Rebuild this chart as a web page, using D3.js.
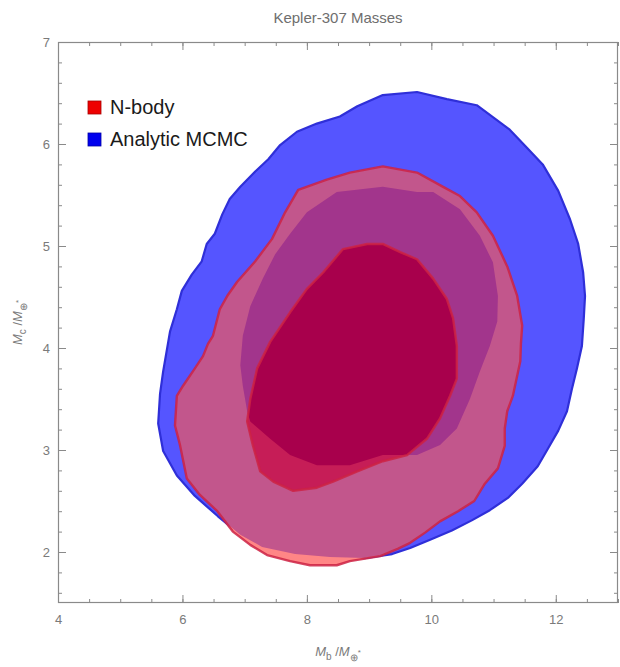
<!DOCTYPE html>
<html>
<head>
<meta charset="utf-8">
<script src="https://cdn.jsdelivr.net/npm/d3@7"></script>
<style>
  html, body { margin: 0; padding: 0; background: #fff; }
  svg { display: block; font-family: "Liberation Sans", Arial, Helvetica, sans-serif; }
</style>
</head>
<body>
<div id="chart"></div>
<script>
// contour outlines, as [Mb, Mc] pairs
// analytic MCMC, outer (95%) and inner (68%) levels
var blueOuter = [[9.22,6.48],[9.77,6.51],[10.25,6.44],[10.73,6.38],[11.26,6.14],[11.54,5.96],[11.79,5.80],[12.04,5.54],[12.23,5.26],[12.36,5.02],[12.44,4.74],[12.47,4.51],[12.45,4.29],[12.42,4.02],[12.34,3.80],[12.26,3.60],[12.18,3.38],[12.04,3.19],[11.88,3.02],[11.71,2.84],[11.46,2.67],[11.23,2.53],[10.94,2.41],[10.65,2.31],[10.33,2.21],[9.98,2.12],[9.66,2.04],[9.37,1.98],[8.93,1.94],[8.37,1.95],[7.81,1.98],[7.28,2.05],[6.93,2.17],[6.57,2.35],[6.20,2.55],[5.91,2.75],[5.69,2.99],[5.61,3.26],[5.64,3.55],[5.69,3.77],[5.80,4.16],[5.91,4.38],[5.99,4.56],[6.15,4.72],[6.31,4.85],[6.39,5.02],[6.52,5.12],[6.64,5.31],[6.76,5.46],[6.93,5.58],[7.17,5.73],[7.38,5.85],[7.57,5.99],[7.84,6.12],[8.16,6.20],[8.53,6.27],[8.81,6.37]];
var blueInner = [[9.22,5.58],[9.77,5.53],[10.03,5.53],[10.46,5.36],[10.78,5.10],[10.99,4.84],[11.07,4.51],[11.06,4.26],[10.94,4.02],[10.78,3.77],[10.62,3.50],[10.41,3.21],[10.14,3.05],[9.77,2.95],[9.22,2.95],[8.69,2.85],[8.16,2.85],[7.73,2.95],[7.41,3.11],[7.09,3.28],[7.04,3.38],[6.97,3.63],[6.93,3.83],[6.97,4.12],[7.09,4.41],[7.29,4.68],[7.49,4.92],[7.73,5.12],[8.00,5.33],[8.48,5.53]];
// N-body, outer and inner levels
var redOuter = [[9.22,5.78],[9.77,5.72],[10.19,5.58],[10.46,5.49],[10.73,5.33],[10.99,5.10],[11.22,4.80],[11.38,4.51],[11.46,4.22],[11.44,4.04],[11.43,3.87],[11.31,3.53],[11.22,3.38],[11.18,3.21],[11.18,3.04],[11.07,2.82],[10.86,2.67],[10.69,2.50],[10.43,2.40],[10.14,2.30],[9.90,2.19],[9.66,2.09],[9.46,2.03],[9.18,1.96],[8.69,1.91],[8.48,1.87],[8.05,1.87],[7.73,1.91],[7.36,1.97],[7.09,2.07],[6.81,2.20],[6.56,2.40],[6.28,2.56],[6.07,2.72],[5.96,3.05],[5.88,3.24],[5.91,3.53],[6.01,3.63],[6.20,3.80],[6.33,3.92],[6.41,4.04],[6.49,4.12],[6.60,4.38],[6.73,4.52],[6.88,4.65],[7.17,4.85],[7.44,5.07],[7.65,5.33],[7.86,5.55],[8.32,5.65],[8.69,5.72]];
var redInner = [[8.58,4.97],[8.97,5.02],[9.22,5.02],[9.50,4.94],[9.77,4.87],[10.03,4.68],[10.25,4.48],[10.35,4.29],[10.41,4.02],[10.41,3.70],[10.30,3.53],[10.14,3.31],[9.93,3.11],[9.61,2.95],[9.22,2.89],[8.81,2.79],[8.42,2.69],[8.16,2.63],[7.78,2.60],[7.46,2.69],[7.25,2.79],[7.13,3.05],[7.04,3.28],[7.09,3.50],[7.20,3.80],[7.41,4.06],[7.73,4.35],[8.00,4.58],[8.26,4.74]];

var xMajor = [4, 6, 8, 10, 12];
var yMajor = [2, 3, 4, 5, 6, 7];
var xMinor = d3.range(4, 13.01, 0.5);
var yMinor = d3.range(1.6, 7.01, 0.2);

var legendNames = ["N-body", "Analytic MCMC"];
var legendColors = ["#ee0000", "#0000ee"];

var width = 620, height = 667,
    margin = {top: 42, right: 2, bottom: 64, left: 58};

var svg = d3.select("#chart").append("svg")
    .attr("width", width)
    .attr("height", height);

var x = d3.scaleLinear().domain([4, 13]).range([margin.left, width - margin.right]);
var y = d3.scaleLinear().domain([1.5, 7]).range([height - margin.bottom, margin.top]);

var line = d3.line()
    .x(function(d) { return x(d[0]); })
    .y(function(d) { return y(d[1]); })
    .curve(d3.curveLinearClosed);

var defs = svg.append("defs");
defs.append("clipPath").attr("id", "in-blue-outer")
  .append("path").attr("d", line(blueOuter));
defs.append("clipPath").attr("id", "in-blue-inner")
  .append("path").attr("d", line(blueInner));

// the overlaps get their own colour, the way the translucent fills mix
var g = svg.append("g");
g.append("path").attr("d", line(blueOuter))
  .attr("fill", "#5555ff").attr("stroke", "#2f2fd8").attr("stroke-width", 2.2)
  .attr("stroke-linejoin", "round");
g.append("path").attr("d", line(redOuter)).attr("fill", "#ff8686");
g.append("path").attr("d", line(redOuter)).attr("fill", "#c2568c")
  .attr("clip-path", "url(#in-blue-outer)");
g.append("path").attr("d", line(redOuter)).attr("fill", "#a2358c")
  .attr("clip-path", "url(#in-blue-inner)");
g.append("path").attr("d", line(redInner)).attr("fill", "#c61d57");
g.append("path").attr("d", line(redInner)).attr("fill", "#a8004c")
  .attr("clip-path", "url(#in-blue-inner)");

[redOuter, redInner].forEach(function(d) {
  g.append("path").attr("d", line(d))
    .attr("fill", "none").attr("stroke", "#cc2244").attr("stroke-opacity", 0.85)
    .attr("stroke-width", 2.4).attr("stroke-linejoin", "round");
});

// frame + inward ticks on all four sides
var frameColor = "#8a8a8a", labelColor = "#7a7a7a";

function styleAxis(sel) {
  sel.select(".domain").remove();
  sel.selectAll(".tick line").attr("stroke", frameColor);
  sel.selectAll(".tick text").attr("fill", labelColor).attr("font-size", 13);
}

var bottom = height - margin.bottom, right = width - margin.right;

svg.append("g").attr("transform", "translate(0," + bottom + ")")
  .call(d3.axisBottom(x).tickValues(xMinor).tickSize(-4).tickFormat("")).call(styleAxis);
svg.append("g").attr("transform", "translate(0," + bottom + ")")
  .call(d3.axisBottom(x).tickValues(xMajor).tickSize(-8).tickPadding(12).tickFormat(d3.format("d")))
  .call(styleAxis);
svg.append("g").attr("transform", "translate(0," + margin.top + ")")
  .call(d3.axisTop(x).tickValues(xMinor).tickSize(-4).tickFormat("")).call(styleAxis);
svg.append("g").attr("transform", "translate(0," + margin.top + ")")
  .call(d3.axisTop(x).tickValues(xMajor).tickSize(-8).tickFormat("")).call(styleAxis);

svg.append("g").attr("transform", "translate(" + margin.left + ",0)")
  .call(d3.axisLeft(y).tickValues(yMinor).tickSize(-4).tickFormat("")).call(styleAxis);
svg.append("g").attr("transform", "translate(" + margin.left + ",0)")
  .call(d3.axisLeft(y).tickValues(yMajor).tickSize(-8).tickPadding(8).tickFormat(d3.format("d")))
  .call(styleAxis);
svg.append("g").attr("transform", "translate(" + right + ",0)")
  .call(d3.axisRight(y).tickValues(yMinor).tickSize(-4).tickFormat("")).call(styleAxis);
svg.append("g").attr("transform", "translate(" + right + ",0)")
  .call(d3.axisRight(y).tickValues(yMajor).tickSize(-8).tickFormat("")).call(styleAxis);

svg.append("rect")
  .attr("x", margin.left + 0.5).attr("y", margin.top + 0.5)
  .attr("width", right - margin.left - 1).attr("height", bottom - margin.top - 1)
  .attr("fill", "none").attr("stroke", frameColor).attr("stroke-width", 1.2);

// title and axis labels
svg.append("text")
  .attr("x", (margin.left + right) / 2).attr("y", 23)
  .attr("text-anchor", "middle").attr("fill", "#6e6e6e").attr("font-size", 15)
  .text("Kepler-307 Masses");

function massLabel(t, sub) {
  t.append("tspan").attr("font-style", "italic").text("M");
  t.append("tspan").attr("font-size", 10).attr("dy", 4).text(sub);
  t.append("tspan").attr("dy", -4).text(" /");
  t.append("tspan").attr("font-style", "italic").text("M");
  t.append("tspan").attr("font-size", 10).attr("dy", 5).text("\u2295");
  t.append("tspan").attr("font-size", 8).attr("dy", -6).text("*");
}

svg.append("text")
  .attr("x", (margin.left + right) / 2).attr("y", 656)
  .attr("text-anchor", "middle").attr("fill", labelColor).attr("font-size", 13)
  .call(massLabel, "b");

svg.append("text")
  .attr("transform", "translate(22," + y(4.25) + ")rotate(-90)")
  .attr("text-anchor", "middle").attr("fill", labelColor).attr("font-size", 13)
  .call(massLabel, "c");

// legend
var legend = svg.append("g").attr("transform", "translate(88,101)");
var item = legend.selectAll("g").data(legendNames).enter().append("g")
  .attr("transform", function(d, i) { return "translate(0," + i * 32 + ")"; });
item.append("rect")
  .attr("width", 13).attr("height", 13)
  .attr("fill", function(d, i) { return legendColors[i]; })
  .attr("stroke", function(d, i) { return d3.color(legendColors[i]).darker(1); })
  .attr("stroke-width", 0.8);
item.append("text")
  .attr("x", 22).attr("y", 13)
  .attr("fill", "#1a1a1a").attr("font-size", 20)
  .text(function(d) { return d; });
</script>
</body>
</html>
